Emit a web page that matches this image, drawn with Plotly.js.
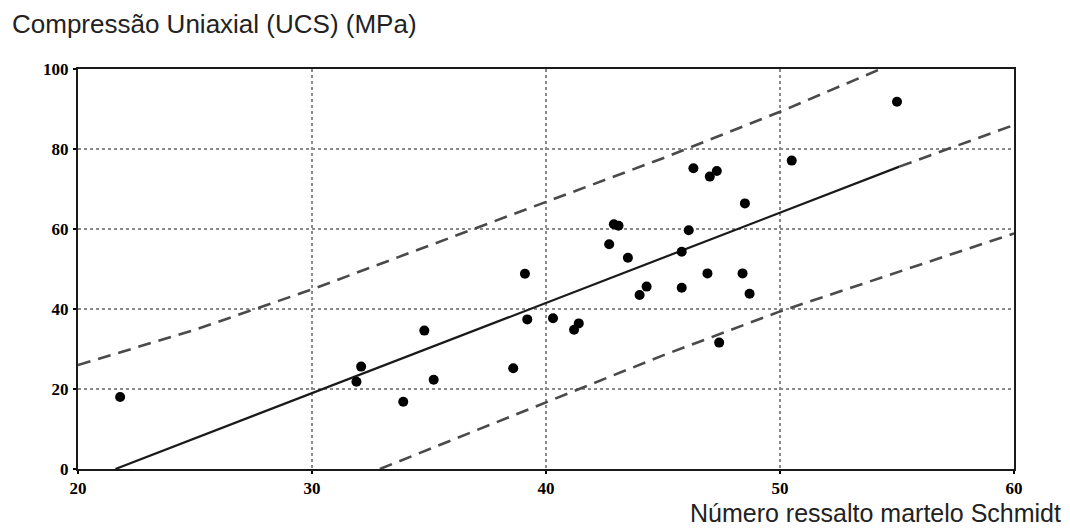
<!DOCTYPE html>
<html>
<head>
<meta charset="utf-8">
<script src="https://cdn.plot.ly/plotly-3.0.1.min.js"></script>
<style>html,body{margin:0;padding:0;background:#fff;}#chart{width:1070px;height:531px;}</style>
</head>
<body>
<div id="chart"></div>
<script>
// Measured data points (Schmidt rebound number vs UCS in MPa)
const reboundX = [21.8, 32.1, 31.9, 33.9, 34.8, 35.2, 38.6, 39.1, 39.2, 40.3, 41.2, 41.4, 42.7, 42.9, 43.1, 43.5, 44.0, 44.3, 45.8, 45.8, 46.1, 46.3, 47.0, 47.3, 48.5, 46.9, 48.4, 48.7, 47.4, 50.5, 55.0];
const ucsY     = [18.0, 25.6, 21.8, 16.8, 34.6, 22.3, 25.2, 48.8, 37.4, 37.7, 34.8, 36.4, 56.2, 61.2, 60.8, 52.8, 43.5, 45.6, 54.3, 45.3, 59.7, 75.2, 73.1, 74.5, 66.4, 48.9, 48.9, 43.8, 31.6, 77.1, 91.8];

// Regression line (solid part) and its dashed extension
const fitX = [21.6, 55.1];
const fitY = [0, 75.6];
const fitExtX = [55.1, 60];
const fitExtY = [75.6, 86.0];

// Prediction bands
const upperX = [20, 25, 30, 40, 45, 50, 54.3];
const upperY = [26.0, 34.8, 44.9, 66.8, 77.7, 89.3, 100];
const lowerX = [32.9, 40, 45, 50, 55, 60];
const lowerY = [0, 16.6, 28.4, 39.4, 49.1, 58.9];

// Axis ticks
const xTicks = [20, 30, 40, 50, 60];
const yTicks = [0, 20, 40, 60, 80, 100];
const yTickText = ['0', '20', '40', '60', '80', '100'];

const titleText = 'Compressão Uniaxial (UCS) (MPa)';
const xTitleText = 'Número ressalto martelo Schmidt';

const dashStyle = {color: '#4a4a4a', width: 2.6, dash: '13px,8px'};

const traces = [
  {x: upperX, y: upperY, mode: 'lines', line: dashStyle, hoverinfo: 'skip', showlegend: false},
  {x: lowerX, y: lowerY, mode: 'lines', line: dashStyle, hoverinfo: 'skip', showlegend: false},
  {x: fitExtX, y: fitExtY, mode: 'lines', line: dashStyle, hoverinfo: 'skip', showlegend: false},
  {x: fitX, y: fitY, mode: 'lines', line: {color: '#1a1a1a', width: 2.2}, showlegend: false},
  {x: reboundX, y: ucsY, mode: 'markers', marker: {color: '#000', size: 10}, showlegend: false}
];

const axisCommon = {
  showline: true, linecolor: '#1a1a1a', linewidth: 2, mirror: true,
  showgrid: true, gridcolor: '#8a8a8a', gridwidth: 1.5, griddash: 'dot',
  zeroline: false,
  ticks: 'outside', ticklen: 3, tickwidth: 2, tickcolor: '#000',
  tickfont: {family: 'Liberation Serif', size: 17, color: '#000', weight: 'bold'}
};

const layout = {
  width: 1070, height: 531,
  margin: {l: 78, r: 56, t: 69, b: 62},
  paper_bgcolor: '#fff', plot_bgcolor: '#fff',
  xaxis: Object.assign({}, axisCommon, {range: [20, 60], tickvals: xTicks, ticklabelstandoff: 0}),
  yaxis: Object.assign({}, axisCommon, {range: [0, 100], tickvals: yTicks, ticktext: yTickText, ticklabelstandoff: 1}),
  annotations: [
    {text: titleText, xref: 'paper', yref: 'paper', x: (10 - 78) / 936, y: 1 + (69 - 24) / 400,
     xanchor: 'left', yanchor: 'middle', showarrow: false,
     font: {family: 'Liberation Sans', size: 26, color: '#222'}},
    {text: xTitleText, xref: 'paper', yref: 'paper', x: (1063 - 78) / 936, y: -(513 - 469) / 400,
     xanchor: 'right', yanchor: 'middle', showarrow: false,
     font: {family: 'Liberation Sans', size: 25, color: '#222'}}
  ]
};

Plotly.newPlot('chart', traces, layout, {displayModeBar: false, staticPlot: true});
</script>
</body>
</html>
